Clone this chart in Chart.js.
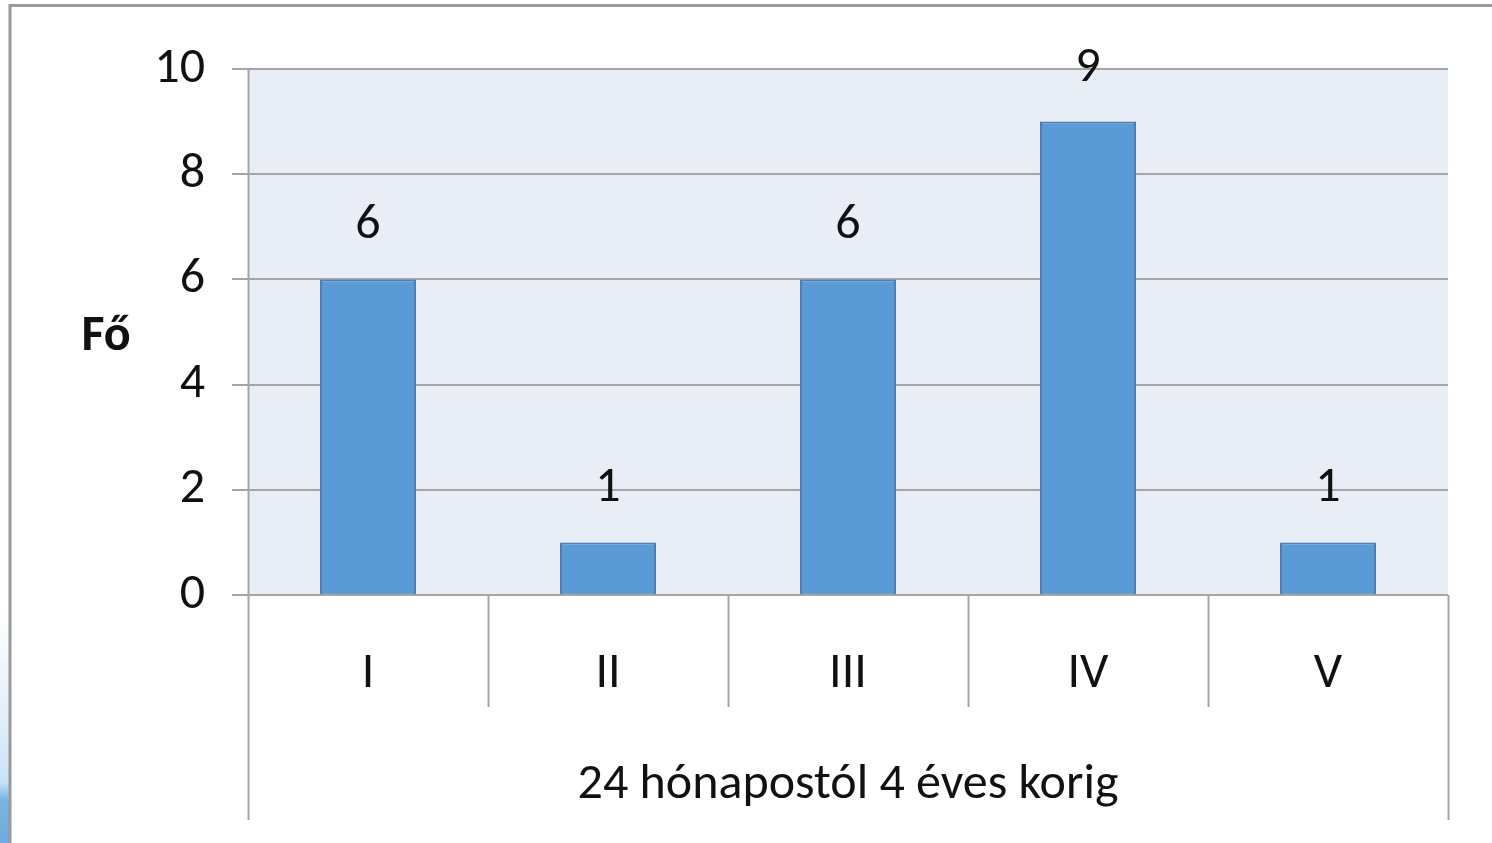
<!DOCTYPE html>
<html>
<head>
<meta charset="utf-8">
<script src="https://cdn.jsdelivr.net/npm/chart.js@4/dist/chart.umd.min.js"></script>
<style>
  html, body { margin: 0; padding: 0; background: #ffffff; }
  #wrap { position: relative; width: 1492px; height: 843px; }
  canvas { display: block; }
</style>
</head>
<body>
<div id="wrap"><canvas id="c" width="1492" height="843"></canvas></div>
<script>
const categories = ['I', 'II', 'III', 'IV', 'V'];
const values = [6, 1, 6, 9, 1];
const yTicks = [0, 2, 4, 6, 8, 10];
const groupLabel = '24 hónapostól 4 éves korig';
const yTitle = 'Fő';

const FONT = '"Carlito", "Liberation Sans Narrow", "Liberation Sans", sans-serif';
const GRID = '#a5a5a5';

const decor = {
  id: 'decor',
  beforeDraw(chart) {
    const ctx = chart.ctx, a = chart.chartArea;
    ctx.save();
    const g = ctx.createLinearGradient(0, 600, 0, 843);
    g.addColorStop(0, 'rgba(220,236,248,0)');
    g.addColorStop(0.75, 'rgba(200,226,246,1)');
    g.addColorStop(0.82, 'rgba(120,180,228,1)');
    g.addColorStop(1, 'rgba(110,172,224,1)');
    ctx.fillStyle = g;
    ctx.fillRect(0, 600, 9, 243);
    ctx.strokeStyle = '#9a9a9a';
    ctx.lineWidth = 3;
    ctx.beginPath();
    ctx.moveTo(10, 843); ctx.lineTo(10, 5.5); ctx.lineTo(1492, 5.5);
    ctx.stroke();
    ctx.fillStyle = '#e9edf6';
    ctx.fillRect(a.left, a.top, a.right - a.left, a.bottom - a.top);
    ctx.restore();
  },
  afterDatasetsDraw(chart) {
    const ctx = chart.ctx, a = chart.chartArea;
    const xs = chart.scales.x;
    ctx.save();
    ctx.strokeStyle = GRID;
    ctx.lineWidth = 2;
    const n = categories.length;
    const half = (xs.getPixelForValue(1) - xs.getPixelForValue(0)) / 2;
    for (let i = 0; i <= n; i++) {
      const x = xs.getPixelForValue(Math.min(i, n - 1)) + (i < n ? -half : half);
      const bottom = (i === 0 || i === n) ? 820 : 707;
      ctx.beginPath();
      ctx.moveTo(Math.round(x) + 0.5, a.bottom);
      ctx.lineTo(Math.round(x) + 0.5, bottom);
      ctx.stroke();
    }
    ctx.beginPath();
    ctx.moveTo(a.left + 0.5, a.top);
    ctx.lineTo(a.left + 0.5, a.bottom);
    ctx.stroke();
    ctx.fillStyle = '#111';
    ctx.font = '50px ' + FONT;
    ctx.textAlign = 'center';
    ctx.textBaseline = 'alphabetic';
    const meta = chart.getDatasetMeta(0);
    meta.data.forEach((bar, i) => {
      ctx.fillText(String(values[i]), bar.x, bar.y - 41);
    });
    ctx.textBaseline = 'middle';
    ctx.fillText(groupLabel, (a.left + a.right) / 2, 785);
    ctx.font = 'bold 50px ' + FONT;
    ctx.fillText(yTitle, 106, 337);
    ctx.restore();
  }
};

new Chart(document.getElementById('c'), {
  type: 'bar',
  data: {
    labels: categories,
    datasets: [{
      data: values,
      backgroundColor: '#5b9bd5',
      borderColor: '#4a7fb6',
      borderWidth: 2,
      barPercentage: 0.4,
      categoryPercentage: 1.0
    }]
  },
  options: {
    responsive: false,
    animation: false,
    devicePixelRatio: 1,
    layout: { padding: { top: 69, right: 44, bottom: 0, left: 0 } },
    plugins: { legend: { display: false }, tooltip: { enabled: false } },
    scales: {
      x: {
        afterFit(s) { s.height = 248; },
        grid: { display: false },
        border: { display: false },
        ticks: { color: '#111', font: { family: FONT, size: 50 }, padding: 41 }
      },
      y: {
        min: 0, max: 10,
        afterFit(s) { s.width = 248; },
        afterBuildTicks(s) { s.ticks = yTicks.map(v => ({ value: v })); },
        grid: { color: GRID, lineWidth: 2, tickLength: 16, drawTicks: true },
        border: { display: false },
        ticks: { color: '#111', font: { family: FONT, size: 50 }, padding: 27, stepSize: 2 }
      }
    }
  },
  plugins: [decor]
});
</script>
</body>
</html>
